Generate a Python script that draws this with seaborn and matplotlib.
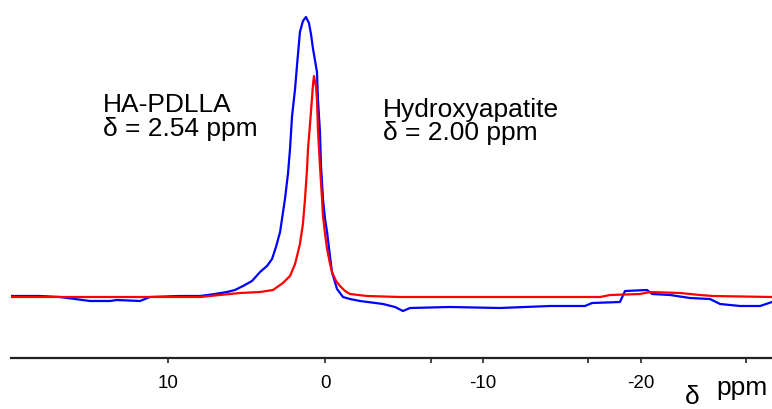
import matplotlib
matplotlib.use("Agg")
import matplotlib.pyplot as plt
import seaborn as sns
import pandas as pd
import numpy as np

# Blue spectrum: HA-PDLLA (chemical shift in ppm, intensity in arbitrary units)
blue_ppm = [19.94, 18.10, 16.84, 14.93, 13.66, 13.22, 11.76, 11.13, 9.23, 7.96,
            7.01, 6.25, 5.74, 5.23, 4.66, 4.15, 3.71, 3.39, 3.14, 2.88,
            2.57, 2.38, 2.25, 2.12, 1.93, 1.81, 1.62, 1.43, 1.24, 1.05,
            0.92, 0.79, 0.54, 0.48, 0.35, 0.29, 0.16, 0.03, -0.10, -0.29,
            -0.41, -0.60, -0.73, -1.11, -1.55, -2.19, -3.65, -4.41, -4.91, -5.36,
            -7.89, -11.06, -14.23, -16.45, -16.90, -18.67, -18.99, -20.39, -20.71, -21.85,
            -23.11, -24.38, -25.02, -26.29, -27.56, -28.31]
blue_int = [0, 0, -1, -5, -5, -4, -5, -1, 0, 0,
            2, 4, 6, 10, 15, 24, 30, 37, 49, 64,
            97, 122, 147, 180, 207, 230, 264, 275, 279, 273,
            262, 247, 224, 197, 164, 132, 97, 77, 64, 39,
            24, 14, 7, -1, -3, -5, -8, -11, -15, -12,
            -11, -12, -10, -10, -7, -6, 5, 6, 2, 1,
            -2, -3, -8, -10, -10, -6]

# Red spectrum: Hydroxyapatite
red_ppm = [19.94, 14.30, 7.96, 6.69, 5.42, 4.15, 3.33, 2.70, 2.25, 1.93,
           1.62, 1.43, 1.30, 1.17, 1.11, 0.98, 0.86, 0.79, 0.73, 0.60,
           0.54, 0.48, 0.35, 0.22, 0.16, 0.03, -0.10, -0.29, -0.41, -0.67,
           -0.92, -1.24, -1.55, -2.63, -4.72, -11.06, -17.41, -18.04, -19.94, -20.58,
           -22.48, -23.75, -24.57, -28.31]
red_int = [-1, -1, -1, 1, 3, 4, 6, 13, 20, 32,
           52, 72, 97, 127, 147, 172, 197, 212, 220, 209,
           197, 167, 130, 97, 80, 62, 47, 32, 24, 15,
           10, 5, 2, 0, -1, -1, -1, 1, 2, 4,
           3, 1, 0, -1]

major_ticks = [10, 0, -10, -20]
major_labels = ["10", "0", "-10", "-20"]
minor_ticks = [-6.67, -16.67, -26.67]

labels = [("HA-PDLLA", "δ = 2.54 ppm"), ("Hydroxyapatite", "δ = 2.00 ppm")]

sns.set_style("white")
plt.rcParams['font.family'] = ['Liberation Sans', 'DejaVu Sans']
plt.rcParams['text.color'] = 'black'
plt.rcParams['xtick.color'] = 'black'

W, H = 772, 410
fig = plt.figure(figsize=(W / 100, H / 100), dpi=100)
ax = fig.add_axes([11 / W, (H - 359) / H, (772 - 11) / W, 359 / H])

df_b = pd.DataFrame({"ppm": blue_ppm, "intensity": blue_int})
df_r = pd.DataFrame({"ppm": red_ppm, "intensity": red_int})
sns.lineplot(data=df_b, x="ppm", y="intensity", ax=ax, color="#0000FF",
             linewidth=1.6, sort=False, estimator=None)
sns.lineplot(data=df_r, x="ppm", y="intensity", ax=ax, color="#FF0000",
             linewidth=1.6, sort=False, estimator=None)

ax.set_xlim(19.94, -28.31)
ax.set_ylim(-62, 297)
for s in ["top", "left", "right"]:
    ax.spines[s].set_visible(False)
ax.spines["bottom"].set_color("#222222")
ax.spines["bottom"].set_linewidth(1.6)
ax.set_yticks([])
ax.set_xticks(major_ticks)
ax.set_xticklabels(major_labels)
ax.set_xticks(minor_ticks, minor=True)
ax.tick_params(axis="x", which="both", direction="out", length=3.5, width=1.2,
               color="#222222", labelcolor="black", bottom=True, labelsize=13.5, pad=8)
ax.set_xlabel("")
ax.set_ylabel("")

def ft(x, y, s, va="baseline", **kw):
    fig.text(x / W, 1 - y / H, s, va=va, ha="left", color="black", **kw)

ft(103, 112, labels[0][0], fontsize=19)
ft(103, 136, labels[0][1], fontsize=19)
ft(383, 117, labels[1][0], fontsize=19)
ft(383, 140, labels[1][1], fontsize=19)
ft(716, 395, "ppm", fontsize=19)
ft(685, 409, "δ", va="bottom", fontsize=19)

fig.savefig("out.png", dpi=100)
